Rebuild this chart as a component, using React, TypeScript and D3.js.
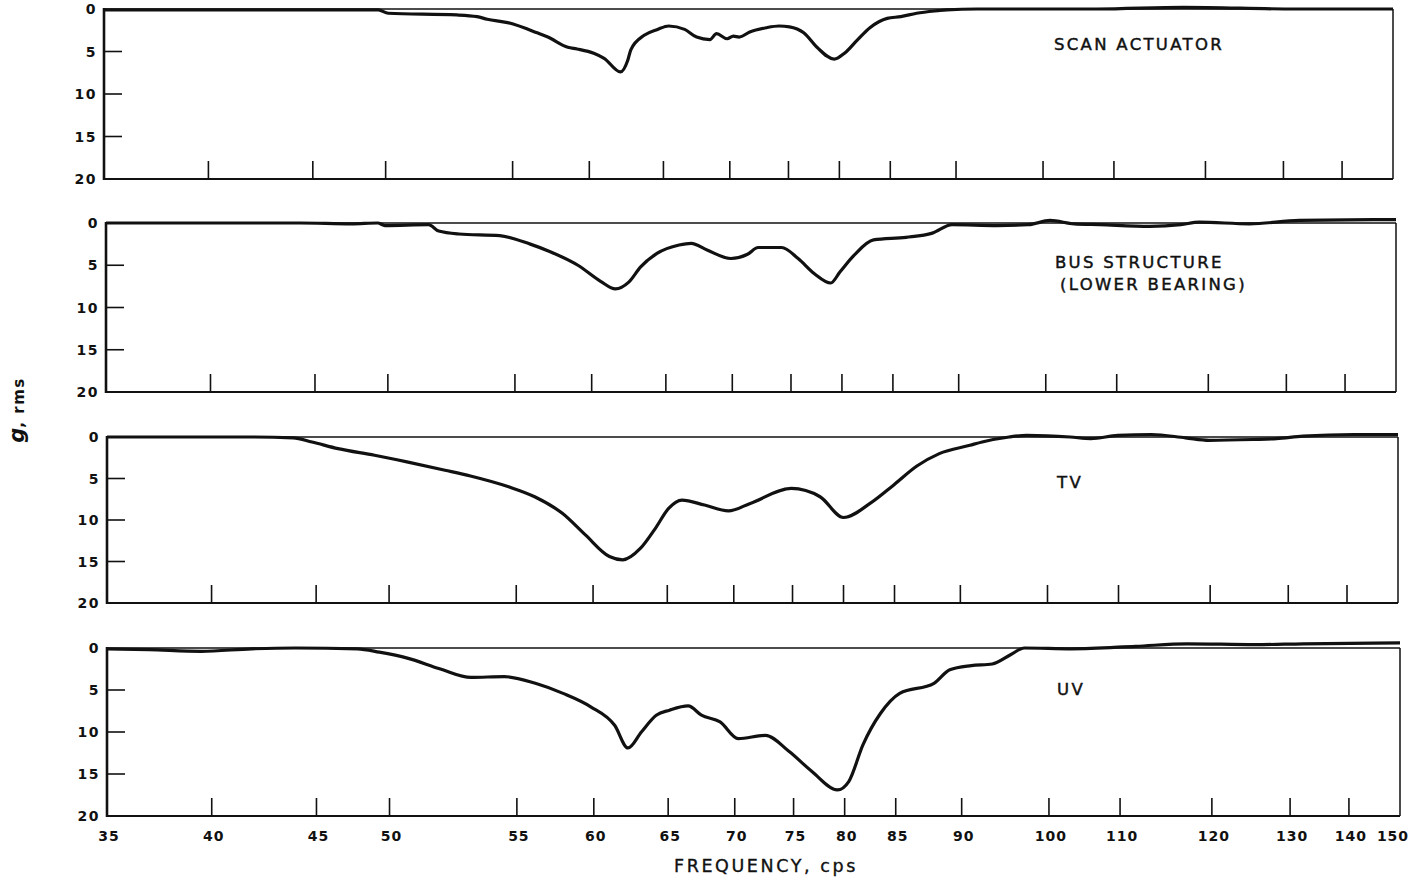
import React, { useEffect, useRef } from 'react'
import * as d3 from 'd3'

// frequency ticks (cps) and g ticks
const freqTicks = [35, 40, 45, 50, 55, 60, 65, 70, 75, 80, 85, 90, 100, 110, 120, 130, 140, 150]
const gTicks = [0, 5, 10, 15, 20]

// [frequency, g rms]
const scanActuator: [number, number][] = [
  [35, 0.1], [40, 0.1], [45, 0.1], [49.5, 0.1], [50.1, 0.5], [52.8, 0.7], [53.6, 0.9], [54.0, 1.2],
  [54.8, 1.6], [56.6, 2.8], [57.3, 3.3], [58.6, 4.5], [59.2, 4.7], [60.3, 5.2], [61.0, 5.8], [62.1, 7.4],
  [62.6, 6.0], [62.8, 4.8], [63.7, 3.1], [64.6, 2.4], [65.4, 2.0], [66.6, 2.4], [67.5, 3.3], [68.5, 3.6],
  [69.0, 2.9], [69.8, 3.5], [70.3, 3.2], [70.8, 3.3], [71.7, 2.7], [73.1, 2.2], [74.2, 2.0], [75.1, 2.1],
  [76.5, 2.8], [77.8, 4.5], [79.5, 5.9], [80.5, 5.2], [81.8, 3.6], [83.0, 2.2], [84.7, 1.1], [85.8, 0.9],
  [87.0, 0.5], [88.6, 0.2], [89.3, 0.1], [92.4, 0], [98.2, 0], [107.6, 0], [117.6, -0.2], [132.2, 0], [150, 0],
]

const busStructure: [number, number][] = [
  [35, 0], [44.3, 0], [47.5, 0.1], [49.3, 0], [49.8, 0.3], [51.6, 0.2], [52.0, 0.95], [52.8, 1.3],
  [54.4, 1.5], [56.0, 2.5], [57.3, 3.4], [59.1, 5.0], [60.6, 6.9], [61.6, 7.8], [62.5, 7.0], [63.3, 5.2],
  [64.4, 3.6], [66.0, 2.6], [66.9, 2.4], [68.1, 3.2], [69.9, 4.2], [71.3, 3.7], [72.2, 2.9], [74.2, 2.9],
  [75.7, 4.2], [77.3, 6.0], [78.9, 7.1], [79.8, 5.8], [81.2, 3.8], [83.1, 2.0], [86.0, 1.7], [88.0, 1.2],
  [89.5, 0.2], [94.4, 0.3], [98, 0.2], [100.6, -0.3], [104, 0.1], [107.6, 0.2], [113.6, 0.4], [117, 0.2],
  [119, -0.1], [125.3, 0.1], [132.2, -0.3], [150, -0.4],
]

const tv: [number, number][] = [
  [35, 0], [41.9, 0], [43.9, 0.1], [44.8, 0.6], [46.5, 1.4], [49.0, 2.2], [50.7, 3.0], [52.2, 4.0],
  [53.2, 4.7], [54.7, 6.0], [56.2, 7.2], [58.0, 9.2], [59.5, 11.8], [61.1, 14.4], [62.0, 14.8], [63.2, 13.4],
  [64.2, 11.0], [65.1, 8.6], [66.1, 7.6], [67.8, 8.2], [69.6, 8.9], [71.4, 8.0], [74.9, 6.2], [77.7, 7.2],
  [80.0, 9.7], [82.6, 8.0], [84.9, 5.8], [86.7, 3.5], [88.4, 2.0], [91.1, 1.0], [92.5, 0.6], [95.6, 0],
  [97.6, -0.2], [103.2, 0], [106.1, 0.2], [109.9, -0.2], [113.6, -0.3], [117.3, 0.1], [119.9, 0.4],
  [125.5, 0.3], [128.5, 0.2], [132.5, -0.1], [141.4, -0.3], [150, -0.3],
]

const uv: [number, number][] = [
  [35, 0.1], [37, 0.2], [39.5, 0.4], [41.9, 0.1], [44, 0], [47.8, 0.1], [49.3, 0.5], [50.7, 1.2],
  [52.0, 2.5], [53.2, 3.5], [54.5, 3.4], [56.2, 4.2], [58.0, 5.4], [59.8, 7.0], [61.4, 9.2], [62.3, 11.9],
  [63.2, 10.0], [64.2, 8.0], [65.1, 7.4], [66.5, 6.9], [67.5, 8.0], [68.9, 8.8], [70.3, 10.8], [72.6, 10.4],
  [74.6, 12.3], [76.8, 14.7], [79.3, 16.9], [80.4, 15.9], [81.8, 11.5], [83.5, 7.8], [85.3, 5.4], [87.9, 4.2],
  [89.1, 2.6], [91.1, 2.1], [93.5, 1.9], [95.6, 0.8], [97.2, 0], [103.2, 0.1], [111.7, -0.2], [117.3, -0.5],
  [125.5, -0.4], [132.2, -0.5], [150, -0.6],
]

// where each frequency tick sits across the strip chart (the sweep is not log or linear)
const tickFrac = [0, 0.081, 0.162, 0.2185, 0.317, 0.3765, 0.434, 0.4855, 0.531, 0.5705, 0.61, 0.661,
  0.7285, 0.7835, 0.8545, 0.915, 0.9605, 1]

const panels = [
  { data: scanActuator, top: 9, bottom: 179, left: 104, right: 1393, labels: ['SCAN ACTUATOR'], lx: [1054], ly: [50] },
  { data: busStructure, top: 223, bottom: 392, left: 106, right: 1396, labels: ['BUS STRUCTURE', '(LOWER BEARING)'], lx: [1055, 1060], ly: [268, 290] },
  { data: tv, top: 437, bottom: 603, left: 107, right: 1398, labels: ['TV'], lx: [1057], ly: [488] },
  { data: uv, top: 648, bottom: 816, left: 107, right: 1400, labels: ['UV'], lx: [1057], ly: [695] },
]

const ink = '#111'
const font = '"DejaVu Sans", "Noto Sans", sans-serif'

export default function App() {
  const ref = useRef<SVGSVGElement>(null)

  useEffect(() => {
    const svg = d3.select(ref.current)
    svg.selectAll('*').remove()

    panels.forEach((p, i) => {
      const x = d3.scaleLinear()
        .domain(freqTicks)
        .range(tickFrac.map(f => p.left + f * (p.right - p.left)))
      const y = d3.scaleLinear().domain([0, 20]).range([p.top, p.bottom])

      const g = svg.append('g')

      // frame: heavy left/bottom, light top/right
      g.append('line').attr('x1', p.left).attr('x2', p.right).attr('y1', p.top).attr('y2', p.top)
        .attr('stroke', ink).attr('stroke-width', 1.3)
      g.append('line').attr('x1', p.right).attr('x2', p.right).attr('y1', p.top).attr('y2', p.bottom)
        .attr('stroke', ink).attr('stroke-width', 1.5)
      g.append('line').attr('x1', p.left).attr('x2', p.left).attr('y1', p.top - 1).attr('y2', p.bottom + 1)
        .attr('stroke', ink).attr('stroke-width', 2.6)
      g.append('line').attr('x1', p.left).attr('x2', p.right).attr('y1', p.bottom).attr('y2', p.bottom)
        .attr('stroke', ink).attr('stroke-width', 2.2)

      // y ticks inward
      g.selectAll('.yt').data(gTicks.filter(v => v > 0 && v < 20)).enter().append('line')
        .attr('x1', p.left).attr('x2', p.left + 18)
        .attr('y1', d => y(d)).attr('y2', d => y(d))
        .attr('stroke', ink).attr('stroke-width', 1.6)

      g.selectAll('.yl').data(gTicks).enter().append('text')
        .attr('x', p.left - 7).attr('y', d => y(d)).attr('dy', '0.36em')
        .attr('text-anchor', 'end')
        .attr('font-family', font).attr('font-weight', 'bold').attr('font-size', 14)
        .attr('letter-spacing', 1.5)
        .attr('fill', ink)
        .text(d => d)

      // x ticks upward
      g.selectAll('.xt').data(freqTicks.slice(1, -1)).enter().append('line')
        .attr('x1', d => x(d)).attr('x2', d => x(d))
        .attr('y1', p.bottom).attr('y2', p.bottom - 18)
        .attr('stroke', ink).attr('stroke-width', 1.6)

      const line = d3.line<[number, number]>()
        .x(d => x(d[0]))
        .y(d => y(d[1]))
        .curve(d3.curveMonotoneX)

      g.append('path')
        .datum(p.data)
        .attr('d', line)
        .attr('fill', 'none')
        .attr('stroke', ink)
        .attr('stroke-width', 3.2)
        .attr('stroke-linejoin', 'round')

      p.labels.forEach((t, k) => {
        g.append('text')
          .attr('x', p.lx[k]).attr('y', p.ly[k])
          .attr('font-family', font).attr('font-size', 16.5).attr('letter-spacing', 2.3)
          .attr('fill', ink).attr('stroke', ink).attr('stroke-width', 0.45)
          .text(t)
      })

      if (i === panels.length - 1) {
        g.selectAll('.xl').data(freqTicks).enter().append('text')
          .attr('x', d => x(d) + (d === 150 ? -7 : 2)).attr('y', 841)
          .attr('text-anchor', 'middle')
          .attr('font-family', font).attr('font-weight', 'bold').attr('font-size', 14)
          .attr('letter-spacing', 1)
          .attr('fill', ink)
          .text(d => d)
      }
    })

    svg.append('text')
      .attr('x', 766).attr('y', 872)
      .attr('text-anchor', 'middle')
      .attr('font-family', font).attr('font-size', 17.5).attr('letter-spacing', 2.6)
      .attr('fill', ink).attr('stroke', ink).attr('stroke-width', 0.35)
      .text('FREQUENCY, cps')

    const yt = svg.append('text')
      .attr('transform', 'translate(24,410) rotate(-90)')
      .attr('text-anchor', 'middle')
      .attr('font-family', font).attr('fill', ink)
    yt.append('tspan').attr('font-style', 'italic').attr('font-weight', 'bold').attr('font-size', 21).text('g')
    yt.append('tspan').attr('font-size', 15).attr('font-weight', 'bold').attr('letter-spacing', 1.5).text(', rms')
  }, [])

  return (
    <svg ref={ref} width={1419} height={879}
      style={{ position: 'absolute', left: 0, top: 0, background: '#fff' }} />
  )
}
